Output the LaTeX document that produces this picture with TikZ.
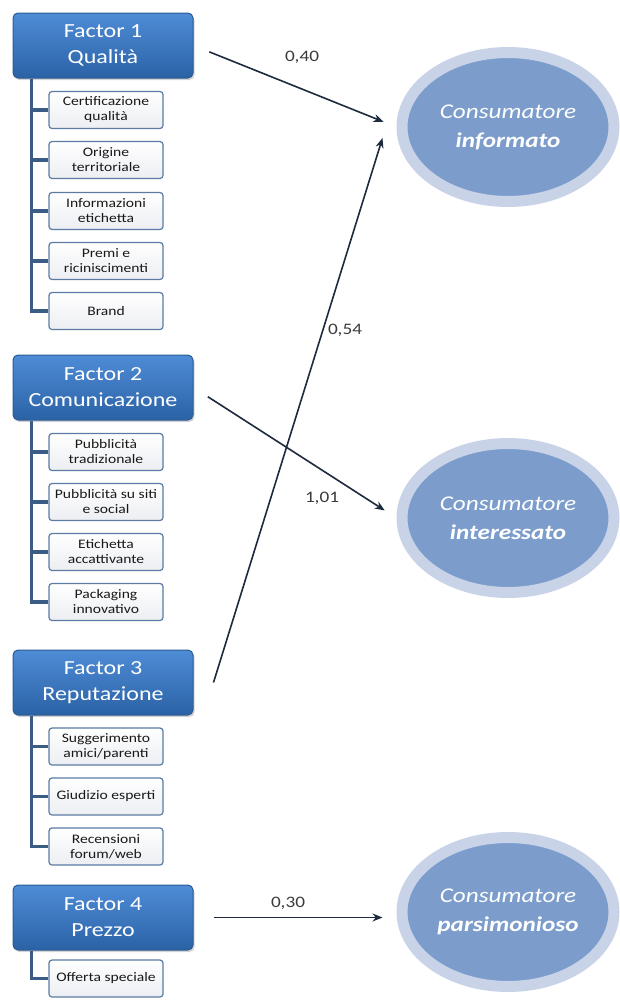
\documentclass[tikz,border=0pt]{standalone}
\usepackage{fontspec}
\setmainfont{Carlito}[FakeStretch=1.2]
\usetikzlibrary{arrows.meta,shapes.geometric,shadows}
\definecolor{factorTop}{HTML}{4E8CD6}
\definecolor{factorBot}{HTML}{2B62A6}
\definecolor{factorLine}{HTML}{2C5B93}
\definecolor{treeLine}{HTML}{3B5C85}
\definecolor{itemLine}{HTML}{5A7BA3}
\definecolor{itemFill}{HTML}{ECEEF2}
\definecolor{ringCol}{HTML}{C9D3E8}
\definecolor{consCol}{HTML}{7C9DCC}
\definecolor{arrowCol}{HTML}{1E2A3D}
\definecolor{labelCol}{HTML}{3A3A3A}
\begin{document}
\begin{tikzpicture}[x=1pt, y=-1pt,
    factor/.style={rectangle, rounded corners=5pt, draw=factorLine, line width=1pt,
      top color=factorTop, bottom color=factorBot, minimum width=180pt, minimum height=65pt,
      inner sep=0pt, text=white, align=center, font=\fontsize{20}{26}\selectfont,
      drop shadow={opacity=0.35, shadow xshift=1.5pt, shadow yshift=-2pt}},
    item/.style={rectangle, rounded corners=3pt, draw=itemLine, line width=1.2pt,
      top color=white, bottom color=itemFill, minimum width=114pt, minimum height=37pt,
      inner sep=0pt, text=black!90, align=center, font=\fontsize{13}{15}\selectfont},
    tree/.style={draw=treeLine, line width=3.5pt},
    cons/.style={ellipse, draw=ringCol, line width=11pt, fill=consCol,
      minimum width=212pt, minimum height=149pt, text=white, align=center,
      font=\fontsize{21}{29}\selectfont\itshape},
    arr/.style={draw=arrowCol, line width=1.6pt, -{Stealth[length=10pt,width=8pt]}},
    weight/.style={text=labelCol, font=\fontsize{16}{16}\selectfont}]
    \useasboundingbox (0,0) rectangle (620,1001);

    % factor 1
    \node[factor] (F1) at (103,45.5) {Factor 1\\Qualità};
    \node[item] (F1a) at (106,110) {Certificazione\\qualità};
    \node[item] (F1b) at (106,160) {Origine\\territoriale};
    \node[item] (F1c) at (106,211) {Informazioni\\etichetta};
    \node[item] (F1d) at (106,261) {Premi e\\riciniscimenti};
    \node[item] (F1e) at (106,311) {Brand};

    % factor 2
    \node[factor] (F2) at (103,387.5) {Factor 2\\Comunicazione};
    \node[item] (F2a) at (106,452) {Pubblicità\\tradizionale};
    \node[item] (F2b) at (106,502) {Pubblicità su siti\\e social};
    \node[item] (F2c) at (106,552) {Etichetta\\accattivante};
    \node[item] (F2d) at (106,602) {Packaging\\innovativo};

    % factor 3
    \node[factor] (F3) at (103,682.5) {Factor 3\\Reputazione};
    \node[item] (F3a) at (106,746.5) {Suggerimento\\amici/parenti};
    \node[item] (F3b) at (106,796.5) {Giudizio esperti};
    \node[item] (F3c) at (106,846.5) {Recensioni\\forum/web};

    % factor 4
    \node[factor] (F4) at (103,917.5) {Factor 4\\Prezzo};
    \node[item] (F4a) at (106,978.5) {Offerta speciale};

    % consumer types
    \node[cons] (Inf) at (508,127) {Consumatore\\\textbf{informato}};
    \node[cons] (Int) at (508,518) {Consumatore\\\textbf{interessato}};
    \node[cons] (Par) at (508,912) {Consumatore\\\textbf{parsimonioso}};

    % trees
    \draw[tree] ([xshift=19pt]F1.south west) |- (F1e.west);
    \draw[tree] (F1a.west) -- ++(-17,0);
    \draw[tree] (F1b.west) -- ++(-17,0);
    \draw[tree] (F1c.west) -- ++(-17,0);
    \draw[tree] (F1d.west) -- ++(-17,0);
    \draw[tree] ([xshift=19pt]F2.south west) |- (F2d.west);
    \draw[tree] (F2a.west) -- ++(-17,0);
    \draw[tree] (F2b.west) -- ++(-17,0);
    \draw[tree] (F2c.west) -- ++(-17,0);
    \draw[tree] ([xshift=19pt]F3.south west) |- (F3c.west);
    \draw[tree] (F3a.west) -- ++(-17,0);
    \draw[tree] (F3b.west) -- ++(-17,0);
    \draw[tree] ([xshift=19pt]F4.south west) |- (F4a.west);

    % paths
    \coordinate (InfLow) at ([xshift=-14pt,yshift=-11pt]Inf.west);
    \draw[arr, shorten <=17pt, shorten >=14pt] (F1.east) -- (Inf.west);
    \draw[arr] ([xshift=20pt]F3.east) -- (InfLow);
    \draw[arr, shorten <=17pt, shorten >=14pt] (F2.east) -- (Int.west);
    \draw[arr] ([xshift=20pt]F4.east) -- ([xshift=-14pt]F4.east -| Par.west);

    \node[weight] (w1) at (302,57) {0,40};
    \node[weight] (w2) at (345,330) {0,54};
    \node[weight] (w3) at (322,498) {1,01};
    \node[weight] (w4) at (288,903) {0,30};
\end{tikzpicture}
\end{document}
